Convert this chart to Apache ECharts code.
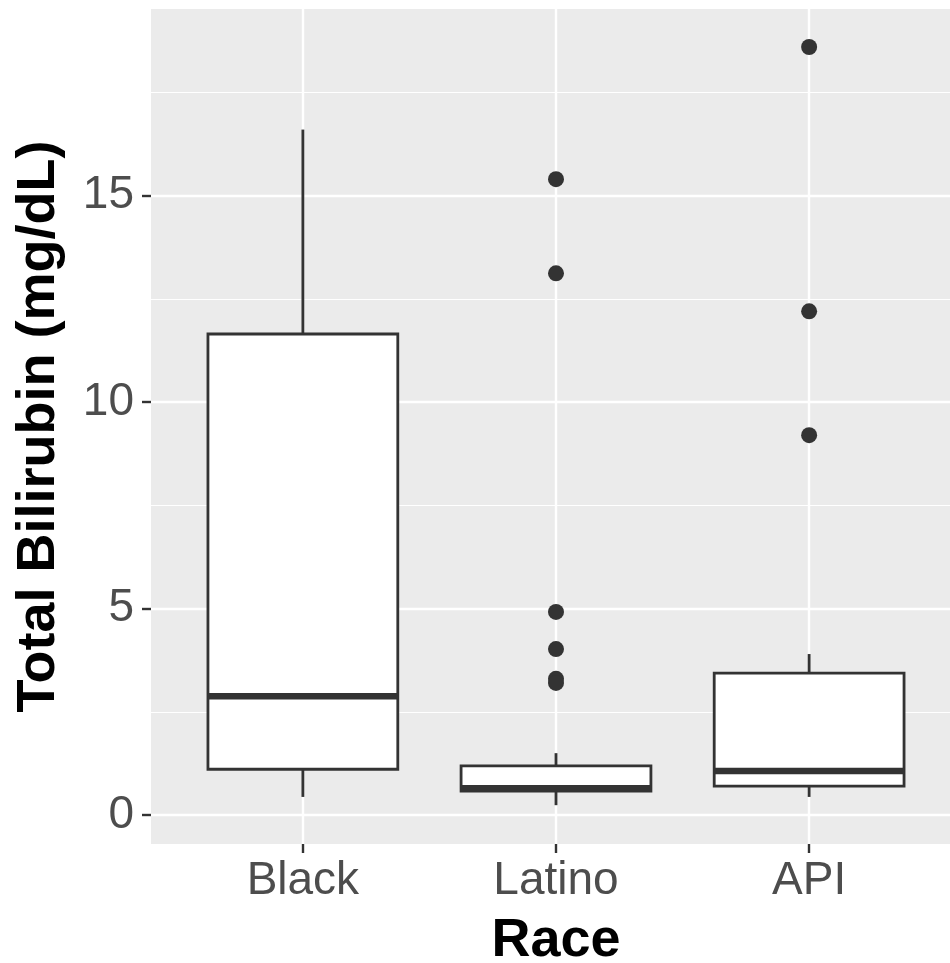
<!DOCTYPE html>
<html>
<head>
<meta charset="utf-8">
<script src="https://cdn.jsdelivr.net/npm/echarts@6/dist/echarts.min.js"></script>
<style>
  html, body { margin: 0; padding: 0; background: #fff; }
  #main { width: 950px; height: 963px; }
</style>
</head>
<body>
<div id="main"></div>
<script>
  // 分类
  var categories = ['Black', 'Latino', 'API'];
  // 箱线统计值: [最小, 下四分位, 中位数, 上四分位, 最大]
  var boxStats = [
    [0.44, 1.11, 2.88, 11.65, 16.6],
    [0.24, 0.58, 0.65, 1.19, 1.5],
    [0.44, 0.70, 1.07, 3.44, 3.9]
  ];
  // 离群点 [分类序号, 值]
  var outliers = [
    [1, 15.4], [1, 13.12], [1, 4.92], [1, 4.02], [1, 3.3], [1, 3.2],
    [2, 18.6], [2, 12.2], [2, 9.2]
  ];
  var yTicks = [0, 5, 10, 15];
  var yMinorTicks = [2.5, 7.5, 12.5, 17.5];

  var boxData = boxStats.map(function (s, i) {
    return [i + 1].concat(s);
  });
  var outlierData = outliers.map(function (o) {
    return [o[0] + 1, o[1]];
  });

  var gridLines = [];
  yTicks.forEach(function (v) {
    gridLines.push({ yAxis: v, lineStyle: { color: '#fff', width: 2.4, type: 'solid' } });
  });
  yMinorTicks.forEach(function (v) {
    gridLines.push({ yAxis: v, lineStyle: { color: '#fff', width: 1.2, type: 'solid' } });
  });
  categories.forEach(function (c, i) {
    gridLines.push({ xAxis: i + 1, lineStyle: { color: '#fff', width: 2.4, type: 'solid' } });
  });

  var fontName = 'Liberation Sans, Arial, sans-serif';

  var chart = echarts.init(document.getElementById('main'));
  var option = {
    backgroundColor: '#fff',
    animation: false,
    grid: {
      left: 151,
      top: 9,
      right: -11,
      bottom: 119,
      show: true,
      backgroundColor: '#ebebeb',
      borderWidth: 0,
      outerBoundsMode: 'none'
    },
    xAxis: {
      type: 'value',
      min: 0.4,
      max: 3.6,
      name: 'Race',
      nameLocation: 'middle',
      nameGap: 70,
      nameTextStyle: { fontFamily: fontName, fontSize: 54, fontWeight: 'bold', color: '#000' },
      axisLine: { show: false, onZero: false },
      splitLine: { show: false },
      axisTick: {
        show: true, length: 9, customValues: [1, 2, 3],
        lineStyle: { color: '#333', width: 2.4 }
      },
      axisLabel: {
        customValues: [1, 2, 3],
        margin: 14,
        fontFamily: fontName,
        fontSize: 46,
        color: '#4d4d4d',
        formatter: function (v) { return categories[Math.round(v) - 1]; }
      }
    },
    yAxis: {
      type: 'value',
      min: -0.70,
      max: 19.52,
      name: 'Total Bilirubin (mg/dL)',
      nameLocation: 'middle',
      nameGap: 85,
      nameTextStyle: { fontFamily: fontName, fontSize: 54, fontWeight: 'bold', color: '#000' },
      axisLine: { show: false, onZero: false },
      splitLine: { show: false },
      axisTick: {
        show: true, length: 9, customValues: yTicks,
        lineStyle: { color: '#333', width: 2.4 }
      },
      axisLabel: {
        customValues: yTicks,
        margin: 17,
        fontFamily: fontName,
        fontSize: 46,
        color: '#4d4d4d'
      }
    },
    series: [
      {
        // 网格线
        type: 'line',
        data: [],
        silent: true,
        z: 1,
        markLine: {
          silent: true,
          z: 1,
          symbol: 'none',
          label: { show: false },
          animation: false,
          data: gridLines
        }
      },
      {
        type: 'custom',
        z: 3,
        data: boxData,
        renderItem: function (params, api) {
          var x = api.value(0);
          var half = 0.375;
          var pLo = api.coord([x, api.value(1)]);
          var pQ1 = api.coord([x, api.value(2)]);
          var pMed = api.coord([x, api.value(3)]);
          var pQ3 = api.coord([x, api.value(4)]);
          var pHi = api.coord([x, api.value(5)]);
          var left = api.coord([x - half, 0])[0];
          var right = api.coord([x + half, 0])[0];
          var stroke = { stroke: '#333', lineWidth: 2.8 };
          return {
            type: 'group',
            children: [
              { type: 'line', shape: { x1: pHi[0], y1: pHi[1], x2: pQ3[0], y2: pQ3[1] }, style: stroke },
              { type: 'line', shape: { x1: pLo[0], y1: pLo[1], x2: pQ1[0], y2: pQ1[1] }, style: stroke },
              {
                type: 'rect',
                shape: { x: left, y: pQ3[1], width: right - left, height: pQ1[1] - pQ3[1] },
                style: { fill: '#fff', stroke: '#333', lineWidth: 2.8 }
              },
              { type: 'line', shape: { x1: left, y1: pMed[1], x2: right, y2: pMed[1] }, style: { stroke: '#333', lineWidth: 6.5 } }
            ]
          };
        }
      },
      {
        type: 'scatter',
        z: 4,
        data: outlierData,
        symbol: 'circle',
        symbolSize: 16,
        itemStyle: { color: '#333', opacity: 1 }
      }
    ]
  };
  chart.setOption(option);
</script>
</body>
</html>
